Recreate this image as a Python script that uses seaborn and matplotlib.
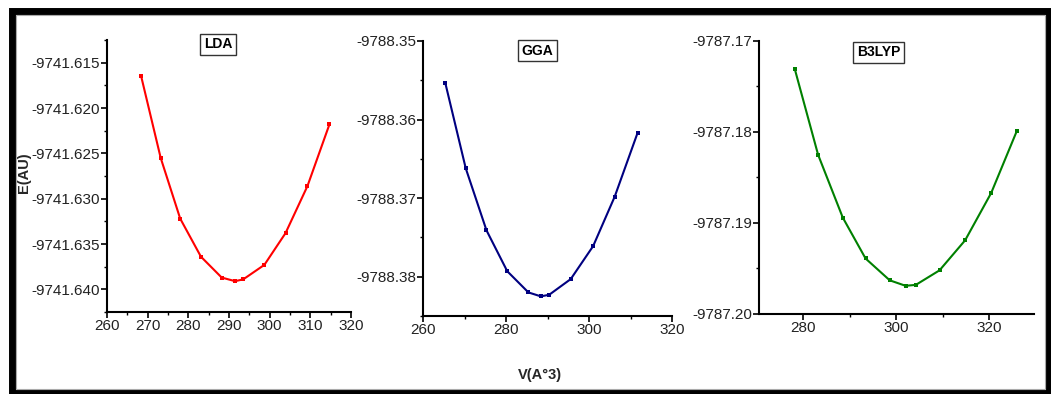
import numpy as np
import pandas as pd
import seaborn as sns
import matplotlib
matplotlib.use("Agg")
import matplotlib.pyplot as plt
from matplotlib.patches import Rectangle
from matplotlib.ticker import MultipleLocator, FormatStrFormatter

# ---- data ----
lda_v = [268.4, 273.2, 278.0, 283.1, 288.2, 291.5, 293.5, 298.7, 303.9, 309.3, 314.7]
lda_e = [-9741.6165, -9741.6255, -9741.6322, -9741.6364, -9741.6387, -9741.6391,
         -9741.6389, -9741.6373, -9741.6338, -9741.6286, -9741.6218]
gga_v = [265.4, 270.3, 275.3, 280.3, 285.4, 288.4, 290.4, 295.6, 301.0, 306.2, 311.7]
gga_e = [-9788.3554, -9788.3662, -9788.3741, -9788.3793, -9788.3820, -9788.3825,
         -9788.3823, -9788.3803, -9788.3761, -9788.3698, -9788.3617]
b3_v = [278.2, 283.2, 288.5, 293.4, 298.6, 302.0, 304.2, 309.3, 314.8, 320.4, 325.9]
b3_e = [-9787.1731, -9787.1825, -9787.1894, -9787.1939, -9787.1963, -9787.1969,
        -9787.1968, -9787.1952, -9787.1919, -9787.1867, -9787.1799]

titles = ["LDA", "GGA", "B3LYP"]
colors = ["#ff0000", "#000080", "#008000"]

sns.set_theme(style="white")
plt.rcParams['font.family'] = ['Liberation Sans', 'DejaVu Sans']

W, H = 1051, 394
fig = plt.figure(figsize=(W / 100, H / 100), dpi=100)

def px_axes(l, r, t, b):
    return fig.add_axes([l / W, 1 - b / H, (r - l) / W, (b - t) / H])

panels = [
    dict(v=lda_v, e=lda_e, box=(107, 351, 40, 312), xlim=(260, 320), xmaj=10,
         ylim=(-9741.6425, -9741.6125), ymaj=0.005, fmt="%.3f", tx=0.455, ty=1.01),
    dict(v=gga_v, e=gga_e, box=(423, 672, 41, 316), xlim=(260, 320), xmaj=20,
         ylim=(-9788.385, -9788.35), ymaj=0.01, fmt="%.2f", tx=0.46, ty=0.99),
    dict(v=b3_v, e=b3_e, box=(759, 1034, 41, 314), xlim=(270.5, 329.6), xmaj=20,
         ylim=(-9787.20, -9787.17), ymaj=0.01, fmt="%.2f", tx=0.435, ty=0.985),
]

for i, p in enumerate(panels):
    ax = px_axes(*p["box"])
    df = pd.DataFrame({"V": p["v"], "E": p["e"]})
    sns.lineplot(data=df, x="V", y="E", ax=ax, color=colors[i], linewidth=1.5,
                 marker="s", markersize=3.5, markeredgewidth=0)
    ax.set_xlim(*p["xlim"])
    ax.set_ylim(*p["ylim"])
    ax.xaxis.set_major_locator(MultipleLocator(p["xmaj"]))
    ax.xaxis.set_minor_locator(MultipleLocator(p["xmaj"] / 2))
    ax.yaxis.set_major_locator(MultipleLocator(p["ymaj"]))
    ax.yaxis.set_minor_locator(MultipleLocator(p["ymaj"] / 2))
    ax.yaxis.set_major_formatter(FormatStrFormatter(p["fmt"]))
    ax.xaxis.set_major_formatter(FormatStrFormatter("%d"))
    for s in ["top", "right"]:
        ax.spines[s].set_visible(False)
    for s in ["left", "bottom"]:
        ax.spines[s].set_color("black")
        ax.spines[s].set_linewidth(1.5)
    ax.tick_params(which="major", direction="out", length=4, width=1.2, color="black",
                   labelsize=11, labelcolor="#222222", pad=1, bottom=True, left=True)
    ax.tick_params(which="minor", direction="out", length=2.5, width=1.0, color="black",
                   bottom=True, left=True)
    ax.set_xlabel("")
    ax.set_ylabel("")
    ax.grid(False)
    ax.text(p["tx"], p["ty"], titles[i], transform=ax.transAxes, ha="center", va="top",
            fontsize=10, fontweight="bold", color="black", clip_on=False,
            bbox=dict(boxstyle="square,pad=0.25", facecolor="white", edgecolor="#333333",
                      linewidth=1.0))

fig.text(24 / W, 1 - 173 / H, "E(AU)", rotation=90, ha="center", va="center",
         fontsize=10.5, fontweight="bold")
fig.text(540 / W, 1 - 375 / H, "V(A°3)", ha="center", va="center",
         fontsize=10.5, fontweight="bold")

# outer frame
fig.patches.append(Rectangle((11.5 / W, 1.5 / H), (1048.5 - 11.5) / W, (383.5 - 1.5) / H,
                             transform=fig.transFigure, fill=False, edgecolor="black",
                             linewidth=5.0, zorder=10))
fig.patches.append(Rectangle((15.5 / W, 5.0 / H), (1045 - 15.5) / W, (379.5 - 5.0) / H,
                             transform=fig.transFigure, fill=False, edgecolor="#aaaaaa",
                             linewidth=0.8, zorder=10))

fig.savefig("out.png", dpi=100)
